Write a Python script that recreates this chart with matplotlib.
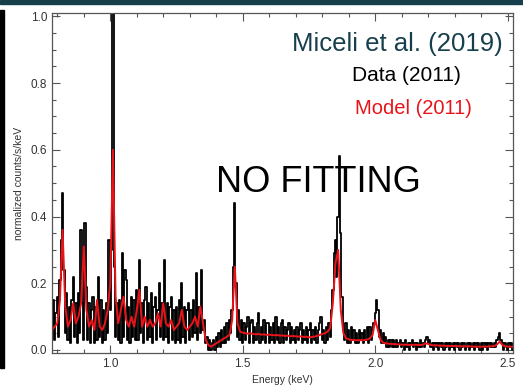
import numpy as np
import matplotlib.pyplot as plt
from matplotlib.patches import Rectangle
from matplotlib.ticker import MultipleLocator

plt.rcParams['font.family'] = ['Liberation Sans', 'DejaVu Sans']

# binned spectrum, 5 eV bins starting at 0.780 keV
data_start, data_step = 0.780, 0.005
data_counts = [
    0.07, 0.15, 0.03, 0.11,
    # 0.80 - 0.90
    0.16, 0.04, 0.21, 0.33, 0.47, 0.24, 0.05, 0.17, 0.03, 0.13,
    0.02, 0.15, 0.22, 0.04, 0.14, 0.02, 0.17, 0.05, 0.36, 0.14,
    # 0.90 - 1.00
    0.03, 0.38, 0.19, 0.03, 0.14, 0.02, 0.12, 0.16, 0.02, 0.13,
    0.03, 0.22, 0.04, 0.15, 0.02, 0.12, 0.03, 0.14, 0.05, 0.33,
    # 1.00 - 1.10
    0.12, 0.30, 1.05, 0.25, 0.04, 0.14, 0.03, 0.15, 0.02, 0.29,
    0.04, 0.24, 0.21, 0.03, 0.13, 0.02, 0.16, 0.04, 0.15, 0.03,
    # 1.10 - 1.20
    0.18, 0.03, 0.27, 0.05, 0.14, 0.02, 0.15, 0.19, 0.03, 0.14,
    0.04, 0.17, 0.02, 0.13, 0.16, 0.03, 0.12, 0.20, 0.04, 0.14,
    # 1.20 - 1.30
    0.03, 0.27, 0.04, 0.14, 0.02, 0.13, 0.16, 0.03, 0.12, 0.02,
    0.13, 0.03, 0.15, 0.02, 0.20, 0.04, 0.13, 0.02, 0.12, 0.14,
    # 1.30 - 1.40
    0.03, 0.12, 0.04, 0.15, 0.05, 0.23, 0.03, 0.13, 0.05, 0.24,
    0.06, 0.09, 0.02, 0.04, 0.00, 0.03, 0.00, 0.02, 0.03, 0.00,
    # 1.40 - 1.50
    0.04, 0.01, 0.05, 0.01, 0.06, 0.02, 0.07, 0.02, 0.08, 0.03,
    0.09, 0.05, 0.12, 0.25, 0.44, 0.20, 0.04, 0.12, 0.03, 0.09,
    # 1.50 - 1.60
    0.02, 0.08, 0.03, 0.07, 0.10, 0.02, 0.08, 0.09, 0.02, 0.07,
    0.03, 0.08, 0.11, 0.02, 0.07, 0.03, 0.09, 0.02, 0.08, 0.08,
    # 1.60 - 1.70
    0.02, 0.07, 0.03, 0.08, 0.02, 0.10, 0.03, 0.07, 0.02, 0.08,
    0.09, 0.02, 0.07, 0.03, 0.06, 0.08, 0.02, 0.07, 0.03, 0.06,
    # 1.70 - 1.80
    0.02, 0.07, 0.03, 0.06, 0.08, 0.02, 0.06, 0.03, 0.07, 0.02,
    0.06, 0.08, 0.02, 0.06, 0.03, 0.07, 0.02, 0.06, 0.08, 0.10,
    # 1.80 - 1.90
    0.03, 0.06, 0.02, 0.07, 0.03, 0.08, 0.04, 0.12, 0.18, 0.29,
    0.33, 0.22, 0.40, 0.58, 0.35, 0.16, 0.06, 0.03, 0.08, 0.02,
    # 1.90 - 2.00
    0.06, 0.02, 0.07, 0.03, 0.06, 0.02, 0.05, 0.02, 0.06, 0.03,
    0.05, 0.02, 0.06, 0.03, 0.07, 0.02, 0.07, 0.03, 0.06, 0.08,
    # 2.00 - 2.10
    0.11, 0.15, 0.12, 0.04, 0.06, 0.02, 0.05, 0.02, 0.04, 0.01,
    0.03, 0.01, 0.03, 0.01, 0.03, 0.01, 0.03, 0.01, 0.02, 0.03,
    # 2.10 - 2.20
    0.01, 0.02, 0.00, 0.03, 0.01, 0.02, 0.00, 0.02, 0.03, 0.01,
    0.02, 0.00, 0.02, 0.01, 0.03, 0.01, 0.02, 0.01, 0.03, 0.04,
    # 2.20 - 2.30
    0.02, 0.03, 0.01, 0.02, 0.00, 0.02, 0.01, 0.02, 0.00, 0.02,
    0.01, 0.02, 0.00, 0.02, 0.01, 0.02, 0.00, 0.02, 0.01, 0.02,
    # 2.30 - 2.40
    0.00, 0.02, 0.01, 0.02, 0.00, 0.02, 0.01, 0.02, 0.00, 0.01,
    0.02, 0.00, 0.02, 0.01, 0.02, 0.00, 0.02, 0.01, 0.02, 0.00,
    # 2.40 - 2.50
    0.02, 0.00, 0.02, 0.01, 0.02, 0.00, 0.02, 0.01, 0.02, 0.01,
    0.02, 0.01, 0.03, 0.04, 0.05, 0.03, 0.02, 0.00, 0.02, 0.01,
    # 2.50 - 2.52
    0.00, 0.02, 0.01, 0.02, 0.00,
]

# folded model, 10 eV bins starting at 0.78 keV
model_start, model_step = 0.78, 0.01
model_counts = [
    0.06, 0.07,
    0.08, 0.15, 0.36, 0.13, 0.07, 0.09, 0.14, 0.08, 0.10, 0.14,
    0.31, 0.12, 0.07, 0.09, 0.06, 0.15, 0.07, 0.06, 0.08, 0.12,
    0.20, 0.60, 0.16, 0.08, 0.12, 0.16, 0.09, 0.07, 0.10, 0.07,
    0.12, 0.18, 0.07, 0.10, 0.07, 0.09, 0.07, 0.08, 0.11, 0.07,
    0.14, 0.08, 0.07, 0.09, 0.06, 0.07, 0.08, 0.12, 0.07, 0.06,
    0.07, 0.08, 0.10, 0.07, 0.13, 0.08, 0.03, 0.015, 0.01, 0.015,
    0.02, 0.025, 0.03, 0.035, 0.04, 0.045, 0.09, 0.25, 0.08, 0.055,
    0.052, 0.05, 0.049, 0.05, 0.048, 0.047, 0.048, 0.046, 0.047, 0.045,
    0.046, 0.045, 0.044, 0.045, 0.043, 0.044, 0.042, 0.043, 0.041, 0.042,
    0.041, 0.040, 0.041, 0.039, 0.040, 0.038, 0.039, 0.040, 0.042, 0.045,
    0.048, 0.050, 0.055, 0.065, 0.14, 0.26, 0.30, 0.12, 0.05, 0.035,
    0.032, 0.030, 0.030, 0.029, 0.030, 0.029, 0.030, 0.031, 0.035, 0.045,
    0.09, 0.06, 0.03, 0.022, 0.02, 0.019, 0.018, 0.018, 0.017, 0.017,
    0.016, 0.016, 0.016, 0.015, 0.015, 0.016, 0.015, 0.015, 0.016, 0.02,
    0.018, 0.015, 0.014, 0.014, 0.013, 0.013, 0.013, 0.012, 0.012, 0.012,
    0.012, 0.012, 0.011, 0.011, 0.011, 0.011, 0.011, 0.010, 0.010, 0.010,
    0.010, 0.010, 0.010, 0.011, 0.011, 0.012, 0.017, 0.025, 0.015, 0.011,
    0.010, 0.010, 0.010,
]

data_energy = data_start + data_step * np.arange(len(data_counts))
model_energy = model_start + model_step * np.arange(len(model_counts))

fig = plt.figure(figsize=(5.23, 3.87), dpi=100)
fig.patches.append(Rectangle((0, 1 - 4 / 387), 1, 4 / 387, transform=fig.transFigure,
                             color='#163f4b', zorder=0))
fig.patches.append(Rectangle((0, 1 - 368 / 387), 4 / 523, 358 / 387, transform=fig.transFigure,
                             color='black', zorder=0))

ax = fig.add_axes([52 / 523, 1 - 353 / 387, 461 / 523, 340 / 387])
ax.plot(data_energy, data_counts, drawstyle='steps-mid', color='black', lw=1.3)
ax.plot(model_energy, model_counts, color='#e8141a', lw=1.4)

ax.set_xlim(0.78, 2.52)
ax.set_ylim(-0.009, 1.01)
ax.xaxis.set_major_locator(MultipleLocator(0.5))
ax.xaxis.set_minor_locator(MultipleLocator(0.1))
ax.yaxis.set_major_locator(MultipleLocator(0.2))
ax.yaxis.set_minor_locator(MultipleLocator(0.05))
ax.xaxis.set_major_formatter(lambda v, p: f'{v:.1f}')
ax.yaxis.set_major_formatter(lambda v, p: f'{v:.1f}')
ax.tick_params(which='both', direction='in', top=True, right=True, color='#555555',
               labelcolor='#333333', labelsize=8.5)
ax.tick_params(which='major', length=6, width=0.8)
ax.tick_params(which='minor', length=3, width=0.8)
for s in ax.spines.values():
    s.set_color('#555555')
    s.set_linewidth(0.9)

ax.set_xlabel('Energy (keV)', fontsize=7.5, color='#333333', labelpad=4)
ax.set_ylabel('normalized counts/s/keV', fontsize=7.5, color='#333333', labelpad=5)

ax.text(0.978, 0.91, 'Miceli et al. (2019)', transform=ax.transAxes, ha='right', va='center',
        fontsize=18.5, color='#17404c')
ax.text(0.888, 0.815, 'Data (2011)', transform=ax.transAxes, ha='right', va='center',
        fontsize=15, color='black')
ax.text(0.91, 0.718, 'Model (2011)', transform=ax.transAxes, ha='right', va='center',
        fontsize=14.5, color='#e8141a')
ax.text(0.577, 0.50, 'NO FITTING', transform=ax.transAxes, ha='center', va='center',
        fontsize=26, color='black')

fig.savefig('out.png', dpi=100)
